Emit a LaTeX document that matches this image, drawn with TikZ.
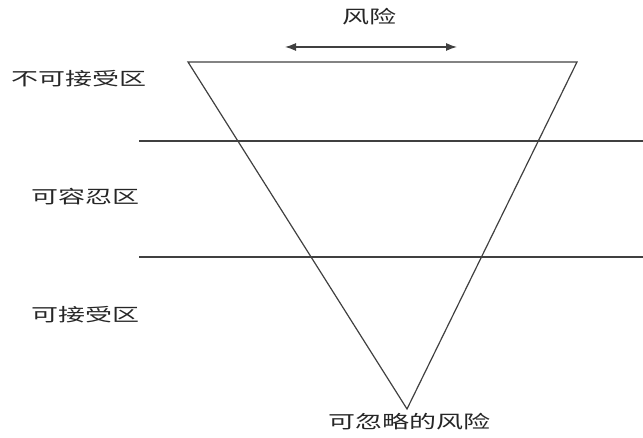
\documentclass[tikz,border=0pt]{standalone}
\usepackage{fontspec}
\newfontfamily\cjk{Noto Sans CJK SC}
\usetikzlibrary{arrows.meta}
\newcommand\wide[1]{\scalebox{1.5}[1]{#1}}

\begin{document}
\begin{tikzpicture}[x=1pt, y=1pt,
	zone/.style={font=\cjk\fontsize{18}{18}\selectfont, inner sep=0pt, color=black!85},
	edge/.style={line width=1.2pt, color=black!75}]
		%%%%% START %%%%%
		\useasboundingbox (0, 0) rectangle (643, 438);
		
		\coordinate (tl) at (188, 376);
		\coordinate (tr) at (577, 376);
		\coordinate (apex) at (407, 29);
		\draw[edge, line join=miter] (tl) -- (tr) -- (apex) -- cycle;
		
		\coordinate (upw) at (139, 297);
		\coordinate (upe) at (643, 297);
		\draw[edge] (upw) -- (upe);
		\coordinate (loww) at (139, 181);
		\coordinate (lowe) at (643, 181);
		\draw[edge] (loww) -- (lowe);
		
		\coordinate (riskw) at (285, 391);
		\coordinate (riske) at (457, 391);
		\draw[edge, {Latex[length=11pt,width=8pt]}-{Latex[length=11pt,width=8pt]}] (riskw) -- (riske);
		
		\node[zone] (risk) at (369, 421) {\wide{风险}};
		\node[zone] (unacc) at (79, 359) {\wide{不可接受区}};
		\node[zone] (toler) at (85, 241) {\wide{可容忍区}};
		\node[zone] (acc) at (85, 123) {\wide{可接受区}};
		\node[zone] (negl) at (409, 16) {\wide{可忽略的风险}};
		
		%%%%% END %%%%%
	\end{tikzpicture}
\end{document}
